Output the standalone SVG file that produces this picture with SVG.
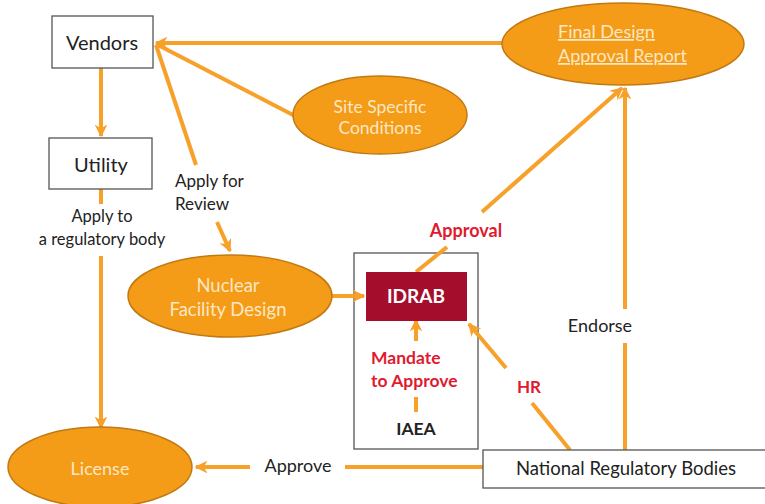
<svg xmlns="http://www.w3.org/2000/svg" width="765" height="504" viewBox="0 0 765 504">
<style>
.box{fill:#fff;stroke:#555;stroke-width:1.3}
.frame{fill:none;stroke:#555;stroke-width:1.3}
.ell{fill:#F49B17;stroke:#C17A12;stroke-width:1.5}
.ln{stroke:#F7A02A;stroke-width:4;fill:none}
.t{font-family:Lato,"Open Sans",sans-serif;fill:#222}
.et{font-family:Lato,"Open Sans",sans-serif;fill:#FCE7C4}
.rt{font-family:Lato,"Open Sans",sans-serif;fill:#E01B2F;font-weight:bold}
</style>
<defs>
<marker id="ah" viewBox="0 0 10 10" refX="9" refY="5" markerWidth="3.2" markerHeight="3.2" orient="auto" markerUnits="strokeWidth">
<path d="M0,0 L10,5 L0,10 L3,5 z" fill="#F7A02A"/>
</marker>
</defs>
<rect width="765" height="504" fill="#fff"/>
<g id="iaea">
<rect class="frame" x="354" y="253" width="124" height="196"/>
<text class="t" x="416" y="435" font-size="17.5" font-weight="bold" text-anchor="middle">IAEA</text>
</g>
<g id="connectors">
<line class="ln" x1="503" y1="43" x2="156" y2="43" marker-end="url(#ah)"/>
<line class="ln" x1="295" y1="116" x2="156" y2="44"/>
<line class="ln" x1="156" y1="45" x2="196" y2="165"/>
<line class="ln" x1="217" y1="222" x2="230" y2="251" marker-end="url(#ah)"/>
<line class="ln" x1="101" y1="68" x2="101" y2="136" marker-end="url(#ah)"/>
<line class="ln" x1="101" y1="189" x2="101" y2="204"/>
<line class="ln" x1="101" y1="256" x2="101" y2="428" marker-end="url(#ah)"/>
<line class="ln" x1="332" y1="296" x2="364" y2="296" marker-end="url(#ah)"/>
<line class="ln" x1="416" y1="272" x2="447" y2="247"/>
<line class="ln" x1="482" y1="212" x2="622" y2="88" marker-end="url(#ah)"/>
<line class="ln" x1="625" y1="450" x2="625" y2="343"/>
<line class="ln" x1="625" y1="309" x2="625" y2="88" marker-end="url(#ah)"/>
<line class="ln" x1="570" y1="450" x2="532" y2="403"/>
<line class="ln" x1="506" y1="368" x2="469" y2="324" marker-end="url(#ah)"/>
<line class="ln" x1="416" y1="341" x2="416" y2="320" marker-end="url(#ah)"/>
<line class="ln" x1="416" y1="397" x2="416" y2="412"/>
<line class="ln" x1="483" y1="467" x2="345" y2="467"/>
<line class="ln" x1="250" y1="467" x2="196" y2="467" marker-end="url(#ah)"/>
<text class="t" x="175" y="187" font-size="17">Apply for</text>
<text class="t" x="175" y="210" font-size="17">Review</text>
<text class="t" x="102" y="222" font-size="16.5" text-anchor="middle">Apply to</text>
<text class="t" x="102" y="245" font-size="16.5" text-anchor="middle">a regulatory body</text>
<text class="rt" x="466" y="237" font-size="18" text-anchor="middle">Approval</text>
<text class="t" x="600" y="332" font-size="18" text-anchor="middle">Endorse</text>
<text class="rt" x="529" y="393" font-size="17" text-anchor="middle">HR</text>
<text class="rt" x="371" y="364" font-size="17.5">Mandate</text>
<text class="rt" x="371" y="387" font-size="17.5">to Approve</text>
<text class="t" x="298" y="472" font-size="18" text-anchor="middle">Approve</text>
</g>
<g id="vendors">
<rect class="box" x="52" y="16" width="101" height="52"/>
<text class="t" x="102" y="50" font-size="20" text-anchor="middle">Vendors</text>
</g>
<g id="utility">
<rect class="box" x="49" y="138" width="103" height="51"/>
<text class="t" x="101" y="172" font-size="20" text-anchor="middle">Utility</text>
</g>
<g id="final-design">
<ellipse class="ell" cx="623" cy="44" rx="121" ry="41"/>
<text class="et" x="558" y="38" font-size="18" text-decoration="underline">Final Design</text>
<text class="et" x="558" y="62" font-size="18" text-decoration="underline">Approval Report</text>
</g>
<g id="site-specific">
<ellipse class="ell" cx="380" cy="115" rx="87" ry="39"/>
<text class="et" x="380" y="113" font-size="17.5" text-anchor="middle">Site Specific</text>
<text class="et" x="380" y="134" font-size="17.5" text-anchor="middle">Conditions</text>
</g>
<g id="nuclear-facility-design">
<ellipse class="ell" cx="230" cy="296" rx="102" ry="41"/>
<text class="et" x="228" y="292" font-size="18.5" text-anchor="middle">Nuclear</text>
<text class="et" x="228" y="316" font-size="18.5" text-anchor="middle">Facility Design</text>
</g>
<g id="idrab">
<rect x="366" y="272" width="101" height="49" fill="#A50D2D"/>
<text x="416" y="303" font-size="19" font-weight="bold" text-anchor="middle" fill="#fff" font-family="Lato,'Open Sans',sans-serif">IDRAB</text>
</g>
<g id="license">
<ellipse class="ell" cx="100" cy="467" rx="92" ry="40"/>
<text class="et" x="100" y="475" font-size="18" text-anchor="middle">License</text>
</g>
<g id="national-regulatory-bodies">
<rect class="box" x="483" y="450" width="290" height="38"/>
<text class="t" x="626" y="475" font-size="18.5" text-anchor="middle">National Regulatory Bodies</text>
</g>
</svg>
